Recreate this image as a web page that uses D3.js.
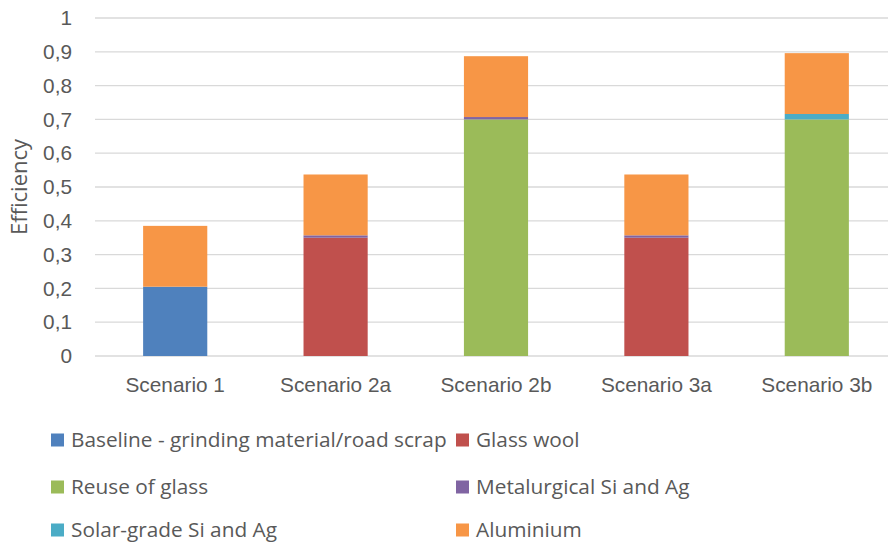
<!DOCTYPE html>
<html>
<head>
<meta charset="utf-8">
<script src="https://cdn.jsdelivr.net/npm/d3@7"></script>
<style>
  html, body { margin: 0; padding: 0; background: #fff; }
  svg { display: block; font-family: "Open Sans", "Noto Sans", sans-serif; }
</style>
</head>
<body>
<svg id="chart" width="888" height="545"></svg>
<script>
// Stacked efficiency contributions per recycling scenario
const scenarios = ["Scenario 1", "Scenario 2a", "Scenario 2b", "Scenario 3a", "Scenario 3b"];
const seriesNames = [
  "Baseline - grinding material/road scrap",
  "Glass wool",
  "Reuse of glass",
  "Metalurgical Si and Ag",
  "Solar-grade Si and Ag",
  "Aluminium"
];
const seriesColors = ["#4F81BD", "#C0504D", "#9BBB59", "#8064A2", "#4BACC6", "#F79646"];

const baseline     = [0.205, 0,     0,     0,     0];
const glassWool    = [0,     0.35,  0,     0.35,  0];
const reuseGlass   = [0,     0,     0.70,  0,     0.70];
const metalurgical = [0,     0.007, 0.007, 0.007, 0];
const solarGrade   = [0,     0,     0,     0,     0.016];
const aluminium    = [0.18,  0.18,  0.18,  0.18,  0.18];

const yTicks = [0, 0.1, 0.2, 0.3, 0.4, 0.5, 0.6, 0.7, 0.8, 0.9, 1];

const seriesValues = [baseline, glassWool, reuseGlass, metalurgical, solarGrade, aluminium];
const rows = scenarios.map((s, i) => {
  const r = { scenario: s };
  seriesNames.forEach((n, k) => { r[n] = seriesValues[k][i]; });
  return r;
});

const svg = d3.select("#chart");
const textColor = "#595959";
const fontSize = "20.8px";

const x = d3.scaleBand().domain(scenarios).range([95, 897]).paddingInner(0.6).paddingOuter(0.3);
const y = d3.scaleLinear().domain([0, 1]).range([356, 18]);

// gridlines
svg.append("g")
  .selectAll("line")
  .data(yTicks)
  .join("line")
  .attr("x1", 95).attr("x2", 897)
  .attr("y1", d => y(d)).attr("y2", d => y(d))
  .attr("stroke", "#d9d9d9").attr("stroke-width", 1.3);

// y tick labels
const fmt = d => d === 0 ? "0" : d === 1 ? "1" : String(d.toFixed(1)).replace(".", ",");
const yAxis = d3.axisLeft(y).tickValues(yTicks).tickFormat(fmt).tickSize(0).tickPadding(23);
const yg = svg.append("g").attr("transform", "translate(95,0)").call(yAxis);
yg.select(".domain").remove();
yg.selectAll("text").attr("fill", textColor).style("font-size", fontSize);

// x axis labels
const xAxis = d3.axisBottom(x).tickSize(0).tickPadding(21);
const xg = svg.append("g").attr("transform", "translate(0,356)").call(xAxis);
xg.select(".domain").remove();
xg.selectAll("text").attr("fill", textColor).style("font-size", fontSize);

// y axis title
svg.append("text")
  .attr("transform", "translate(27,187) rotate(-90)")
  .attr("text-anchor", "middle")
  .attr("fill", textColor)
  .style("font-size", "22px")
  .text("Efficiency");

// stacked bars
const stacked = d3.stack().keys(seriesNames)(rows);
svg.append("g")
  .selectAll("g")
  .data(stacked)
  .join("g")
  .attr("fill", (d, i) => seriesColors[i])
  .selectAll("rect")
  .data(d => d.filter(p => p[1] - p[0] > 0))
  .join("rect")
  .attr("x", d => x(d.data.scenario))
  .attr("width", x.bandwidth())
  .attr("y", d => y(d[1]))
  .attr("height", d => y(d[0]) - y(d[1]));

// legend
const legendPos = [
  [51, 440], [456, 440],
  [51, 487], [456, 487],
  [51, 530], [456, 530]
];
const lg = svg.append("g")
  .selectAll("g")
  .data(seriesNames)
  .join("g")
  .attr("transform", (d, i) => `translate(${legendPos[i][0]},${legendPos[i][1]})`);
lg.append("rect")
  .attr("x", 0).attr("y", -6.5).attr("width", 13).attr("height", 13)
  .attr("fill", (d, i) => seriesColors[i]);
lg.append("text")
  .attr("x", 20).attr("y", 0).attr("dy", "0.35em")
  .attr("fill", textColor)
  .style("font-size", fontSize)
  .text(d => d);
</script>
</body>
</html>
